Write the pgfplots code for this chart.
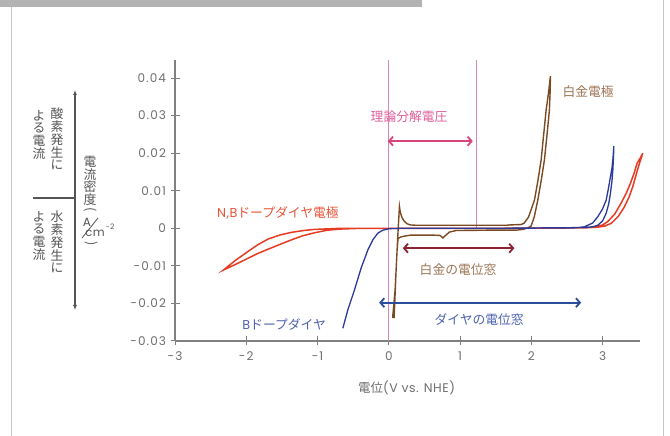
\documentclass[border=0pt]{standalone}
\usepackage{pgfplots}
\pgfplotsset{compat=1.18}
\usepackage{fontspec}
\setmainfont{Noto Sans CJK JP}
\newfontfamily\lat{Poppins}[LetterSpace=4]
\newfontfamily\tickf{Poppins}[LetterSpace=9]
\usetikzlibrary{arrows.meta}
\definecolor{cRed}{HTML}{E63C24}
\definecolor{cBlue}{HTML}{2B3A98}
\definecolor{cBrown}{HTML}{7A4A22}
\definecolor{cPinkLine}{HTML}{D985B8}
\definecolor{cPinkArrow}{HTML}{D9457A}
\definecolor{cPinkText}{HTML}{E0609A}
\definecolor{cDarkRed}{HTML}{8C2232}
\definecolor{cBrownText}{HTML}{9C7556}
\definecolor{cBlueArrow}{HTML}{2A4D9B}
\definecolor{cBlueText}{HTML}{4E63AE}
\definecolor{cRedText}{HTML}{E8553A}
\definecolor{cAxis}{HTML}{808080}
\definecolor{cTick}{HTML}{6E6E6E}
\definecolor{cBar}{HTML}{B3B3B3}
\definecolor{cFrame}{HTML}{C8C8C8}
\definecolor{cDark}{HTML}{555555}
\newcommand{\jf}{\fontsize{12.8bp}{12.7bp}\selectfont}
\newcommand{\lf}{\tickf\fontsize{12bp}{13bp}\selectfont}
\begin{document}
\begin{tikzpicture}[x=1bp,y=1bp]
\useasboundingbox (0,0) rectangle (670,436);
\fill[white] (0,0) rectangle (670,436);
\fill[cBar] (0,428.7) rectangle (422,436);
\draw[cFrame, line width=1bp] (11.5,0) -- (11.5,428.7);
\draw[cFrame, line width=1.3bp] (663.3,0) -- (663.3,436);
% left vertical labels
\node[anchor=north, align=center, inner sep=0pt, text=cDark, font=\jf] at (57,328) {酸\\素\\発\\生\\に};
\node[anchor=north, align=center, inner sep=0pt, text=cDark, font=\jf] at (39,326) {よ\\る\\電\\流};
\node[anchor=north, align=center, inner sep=0pt, text=cDark, font=\jf] at (57,225) {水\\素\\発\\生\\に};
\node[anchor=north, align=center, inner sep=0pt, text=cDark, font=\jf] at (39,225) {よ\\る\\電\\流};
\draw[cDark, line width=1.5bp] (33,238) -- (75.5,238);
\draw[cDark, line width=1.3bp, {Latex[length=5bp,width=4bp]}-{Latex[length=5bp,width=4bp]}] (75,346) -- (75,126);
\node[anchor=north, align=center, inner sep=0pt, text=cDark, font=\jf] at (90,280) {電\\流\\密\\度};
\node[rotate=-90, inner sep=0pt, text=cDark, font=\jf] at (90,226) {(};
\node[inner sep=0pt, text=cDark, font=\lat\fontsize{12bp}{13bp}\selectfont] at (87,214) {A};
\draw[cDark, line width=0.8bp] (82,198) -- (98,218);
\node[inner sep=0pt, text=cDark, font=\lat\fontsize{11.5bp}{13bp}\selectfont] at (95,203) {cm};
\node[inner sep=0pt, text=cDark, font=\lat\fontsize{7.5bp}{8bp}\selectfont] at (110,209) {−2};
\node[rotate=-90, inner sep=0pt, text=cDark, font=\jf] at (91,192) {)};
\begin{axis}[at={(175bp,95bp)}, anchor=south west, scale only axis,
  width=465bp, height=281bp,
  xmin=-3, xmax=3.524, ymin=-0.03, ymax=0.0448,
  axis lines=left, axis line style={-, cAxis, line width=1.2bp},
  clip=false,
  tick align=center, major tick length=9bp,
  tick style={cAxis, line width=1bp},
  xtick={-3,-2,-1,0,1,2,3}, xticklabels={-3,-2,-1,0,1,2,3},
  ytick={-0.03,-0.02,-0.01,0,0.01,0.02,0.03,0.04},
  yticklabels={-0.03,-0.02,-0.01,0,0.01,0.02,0.03,0.04},
  scaled y ticks=false, scaled x ticks=false,
  ticklabel style={text=cTick, font=\lf},
  xticklabel style={yshift=-3bp},
  yticklabel style={xshift=-1bp},
  xlabel={電位{\lat (V vs. NHE)}},
  xlabel style={at={(axis description cs:0.498,-0.167)}, anchor=center, text=cTick, font=\fontsize{12.5bp}{13bp}\selectfont},
]
% pink vertical lines
\addplot[cPinkLine, line width=1.3bp] coordinates {(0,-0.03) (0,0.0448)};
\addplot[cPinkLine, line width=1.3bp] coordinates {(1.232,0) (1.232,0.0448)};
% N,B doped diamond (red)
\addplot[cRed, line width=1.5bp] coordinates {
(3.563,0.0200) (3.502,0.0164) (3.463,0.0138) (3.423,0.0111) (3.370,0.0083) (3.305,0.0057) (3.220,0.0032) (3.119,0.0013) (3.030,0.0006) (2.932,0.0003) (2.698,0.0001)
(1.5,0) (0,0) (-0.389,0) (-0.669,-0.0002) (-0.860,-0.0005) (-1.044,-0.0012) (-1.210,-0.0020) (-1.371,-0.0031) (-1.530,-0.0043) (-1.698,-0.0056) (-1.850,-0.0068) (-1.978,-0.0080) (-2.150,-0.0096) (-2.320,-0.0111)
(-2.150,-0.0085) (-1.978,-0.0062) (-1.840,-0.0044) (-1.698,-0.0029) (-1.530,-0.0018) (-1.371,-0.0011) (-1.200,-0.0006) (-1.044,-0.0003) (-0.669,0) (0,0) (1.5,0) (2.768,0.0001)
(2.900,0.0004) (3.000,0.0009) (3.072,0.0018) (3.170,0.0038) (3.259,0.0067) (3.330,0.0093) (3.390,0.0120) (3.440,0.0146) (3.483,0.0173) (3.530,0.0188) (3.563,0.0200)};
% Pt (brown)
\addplot[cBrown, line width=1.4bp] coordinates {
(0.053,-0.0239) (0.088,-0.0164) (0.116,-0.0058) (0.130,-0.0027) (0.170,-0.0023) (0.215,-0.0021) (0.313,-0.0018) (0.600,-0.0018) (0.720,-0.0019) (0.758,-0.0026) (0.790,-0.0020) (0.850,-0.0010) (0.944,-0.0006) (1.400,-0.0005) (1.786,-0.0005) (1.880,-0.0003) (1.950,0.0001) (1.996,0.0006) (2.040,0.0030) (2.090,0.0075) (2.140,0.0130) (2.183,0.0182) (2.220,0.0250) (2.253,0.0315) (2.262,0.0360) (2.267,0.0405)
(2.240,0.0360) (2.207,0.0315) (2.170,0.0245) (2.137,0.0182) (2.090,0.0125) (2.043,0.0075) (1.960,0.0030) (1.900,0.0014) (1.856,0.0010) (1.700,0.0009) (1.646,0.0008) (0.874,0.0008) (0.383,0.0008) (0.300,0.0009) (0.257,0.0012) (0.215,0.0019) (0.187,0.0028) (0.168,0.0038) (0.159,0.0045) (0.149,0.0058) (0.130,-0.0005) (0.102,-0.0111) (0.074,-0.0239)};
% B doped diamond (blue)
\addplot[cBlue, line width=1.3bp] coordinates {
(-0.645,-0.0266) (-0.575,-0.0217) (-0.482,-0.0164) (-0.389,-0.0106) (-0.295,-0.0058) (-0.225,-0.0031) (-0.155,-0.0013) (-0.084,-0.0005) (0.008,-0.0001) (0.173,0) (1.5,0) (2.744,0.0002)
(2.860,0.0004) (2.932,0.0008) (3.000,0.0020) (3.049,0.0040) (3.085,0.0065) (3.109,0.0093) (3.130,0.0125) (3.143,0.0155) (3.152,0.0190) (3.157,0.0219)
(3.150,0.0200) (3.143,0.0182) (3.130,0.0160) (3.109,0.0137) (3.080,0.0105) (3.049,0.0075) (3.000,0.0052) (2.932,0.0031) (2.860,0.0014) (2.744,0.0004) (2.600,0.0001) (1.5,0) (0.2,0)};
% annotations
\draw[cPinkArrow, line width=1.8bp, {Straight Barb[length=4bp,width=9bp]}-{Straight Barb[length=4bp,width=9bp]}] (-0.014,0.0232) -- (1.178,0.0232);
\node[text=cPinkText, font=\jf] at (0.285,0.0296) {理論分解電圧};
\draw[cDarkRed, line width=1.8bp, {Straight Barb[length=4bp,width=9bp]}-{Straight Barb[length=4bp,width=9bp]}] (0.196,-0.0053) -- (1.762,-0.0053);
\node[text=cBrownText, font=\jf] at (0.972,-0.0109) {白金の電位窓};
\draw[cBlueArrow, line width=1.8bp, {Straight Barb[length=4bp,width=9bp]}-{Straight Barb[length=4bp,width=9bp]}] (-0.136,-0.0198) -- (2.698,-0.0198);
\node[text=cBlueText, font=\jf] at (1.267,-0.0244) {ダイヤの電位窓};
\node[text=cBrownText, font=\jf] at (2.797,0.0363) {白金電極};
\node[text=cRedText, font=\jf] at (-1.557,0.0040) {{\lat N,B}ドープダイヤ電極};
\node[text=cBlueText, font=\jf] at (-1.469,-0.0257) {{\lat B}ドープダイヤ};
\end{axis}
\end{tikzpicture}
\end{document}
